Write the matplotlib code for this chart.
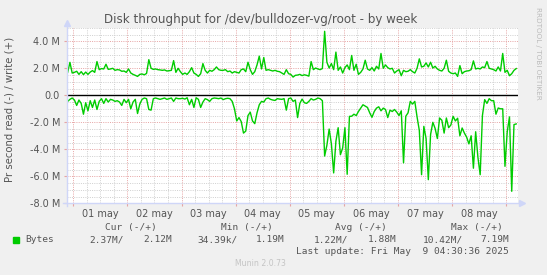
import numpy as np
import pandas as pd
import matplotlib
matplotlib.use("Agg")
import matplotlib.pyplot as plt
import matplotlib.dates as mdates

# hourly samples, values in M (bytes per second)
start = "2025-04-30 21:30"
write_vals = [
    1.70, 2.44, 1.65, 1.70, 1.78, 1.55, 1.75, 1.53, 1.72, 1.55,
    1.72, 1.83, 1.70, 2.50, 1.90, 1.98, 1.95, 2.30, 1.92, 1.95,
    2.00, 1.85, 1.90, 1.88, 1.78, 1.80, 1.70, 1.95, 1.65, 1.55,
    1.48, 1.40, 1.55, 1.58, 1.52, 1.62, 2.64, 2.00, 1.92, 1.95,
    1.90, 1.88, 1.85, 1.88, 1.80, 1.82, 1.85, 2.57, 1.70, 2.00,
    1.75, 1.55, 1.65, 1.55, 1.75, 2.05, 1.65, 1.55, 1.40, 1.60,
    2.35, 1.85, 1.65, 1.85, 1.78, 1.90, 2.10, 1.90, 1.85, 1.85,
    1.90, 1.75, 1.80, 1.65, 1.75, 1.70, 1.65, 1.90, 1.95, 1.75,
    2.45, 1.90, 1.55, 1.75, 2.25, 2.90, 1.95, 2.80, 1.85, 1.90,
    1.85, 1.80, 1.85, 1.78, 1.75, 1.65, 1.55, 1.90, 1.60, 1.55,
    1.35, 1.48, 1.50, 1.55, 1.46, 1.52, 1.48, 1.42, 2.50, 1.90,
    2.02, 1.95, 1.90, 1.98, 4.74, 2.45, 2.02, 2.35, 1.90, 3.20,
    1.85, 2.10, 1.65, 2.05, 2.25, 1.90, 2.95, 1.85, 2.30, 1.55,
    1.70, 1.95, 2.60, 1.95, 1.85, 2.05, 1.80, 2.15, 1.95, 3.10,
    2.00, 2.25, 2.05, 1.95, 2.00, 1.65, 1.80, 1.90, 1.45, 1.85,
    1.75, 1.78, 1.90, 1.75, 1.65, 2.00, 2.70, 2.10, 2.15, 2.40,
    2.10, 2.45, 2.02, 2.15, 1.95, 1.85, 1.80, 2.00, 2.60, 1.78,
    1.65, 1.60, 1.65, 1.40, 2.20, 1.60, 1.75, 1.80, 1.82, 1.90,
    2.55, 1.95, 2.00, 1.95, 2.10, 2.05, 2.50, 2.00, 1.95, 1.90,
    1.80, 2.10, 1.80, 3.10, 1.70, 1.85, 1.45, 1.60, 1.85, 1.98,
]
read_vals = [
    -0.45, -0.30, -0.20, -0.35, -0.75, -0.35, -0.60, -1.40, -0.55, -1.15,
    -0.40, -0.90, -0.35, -1.05, -0.45, -0.25, -0.60, -0.25, -0.50, -0.30,
    -0.35, -0.45, -0.40, -0.50, -0.75, -0.30, -0.55, -0.30, -1.00, -0.50,
    -0.30, -1.35, -0.65, -0.30, -0.20, -0.25, -1.05, -1.10, -0.25, -0.20,
    -0.25, -0.30, -0.25, -0.20, -0.30, -0.25, -0.20, -0.45, -0.20, -0.25,
    -0.25, -0.22, -0.28, -0.18, -0.70, -0.30, -0.90, -0.18, -0.30, -0.90,
    -0.50, -0.25, -0.32, -0.45, -0.25, -0.20, -0.22, -0.25, -0.20, -0.32,
    -0.25, -0.22, -0.25, -0.45, -1.00, -1.90, -1.65, -1.95, -2.80, -2.65,
    -1.50, -1.25, -1.90, -2.10, -1.30, -0.70, -0.45, -0.50, -0.25, -0.20,
    -0.30, -0.35, -0.38, -0.25, -0.28, -0.30, -0.25, -1.10, -0.25, -0.20,
    -0.45, -0.35, -1.65, -0.60, -0.28, -0.55, -0.60, -0.45, -0.25, -0.35,
    -0.30, -0.20, -0.25, -0.40, -4.50, -3.70, -2.50, -3.60, -5.75, -3.40,
    -2.40, -4.40, -3.90, -2.40, -5.85, -1.56, -1.55, -1.40, -1.50, -1.20,
    -0.95, -0.70, -0.80, -0.90, -1.30, -1.63, -1.20, -0.95, -0.85, -1.15,
    -0.95, -1.05, -1.65, -1.10, -1.20, -1.05, -1.25, -1.50, -1.15, -5.00,
    -1.55, -1.30, -0.45, -0.65, -0.45, -1.60, -2.60, -5.88, -2.30, -3.20,
    -6.25, -2.90, -2.00, -2.45, -3.20, -1.68, -1.85, -2.80, -1.68, -2.40,
    -2.20, -1.56, -1.90, -1.70, -3.00, -2.42, -2.80, -3.10, -3.60, -3.00,
    -5.40, -2.70, -4.60, -5.88, -1.50, -0.32, -0.60, -0.25, -0.40, -0.40,
    -1.40, -0.94, -1.00, -1.00, -5.26, -2.70, -1.60, -7.11, -2.17, -2.12,
]
day_labels = ["01 may", "02 may", "03 may", "04 may", "05 may", "06 may", "07 may", "08 may"]
ytick_vals = [4, 2, 0, -2, -4, -6, -8]
ytick_labels = ["4.0 M", "2.0 M", "0.0", "-2.0 M", "-4.0 M", "-6.0 M", "-8.0 M"]

legend_heads = ["Cur (-/+)", "Min (-/+)", "Avg (-/+)", "Max (-/+)"]
legend_vals = [("2.37M/", "2.12M"), ("34.39k/", "1.19M"), ("1.22M/", "1.88M"), ("10.42M/", "7.19M")]

W, H = 547, 275
BG = "#F0F0F0"
FONT = "#555555"
AXIS = "#CFD6F8"
GRID = "#CFCFCF"
MGRID = "#E6A4A4"
GREEN = "#00CC00"

times = mdates.date2num(pd.date_range(start, periods=len(write_vals), freq="h"))
may1 = mdates.date2num(pd.Timestamp("2025-05-01"))


def fx(x):
    return x / W


def fy(y):
    return 1 - y / H


fig = plt.figure(figsize=(W / 100, H / 100), dpi=100, facecolor=BG)
L, R, T, B = 67, 518, 27.8, 203.3
ax = fig.add_axes([fx(L), fy(B), fx(R - L), (B - T) / H])
ax.set_facecolor("white")
ax.set_xlim(may1 - 0.1165, may1 + 8.22)
ax.set_ylim(-8, 5)
for s in ax.spines.values():
    s.set_visible(False)

# grid: 6h minor, day major, 0.5M minor, 2M major
dots = (0, (1, 1.3))
for k in range(-1, 34):
    t = may1 + k * 0.25
    ax.axvline(t, color=MGRID if k % 4 == 0 else GRID, lw=0.7, ls=dots, zorder=1)
for v in np.arange(-8, 5.01, 0.5):
    if v == 0:
        continue
    ax.axhline(v, color=MGRID if v % 2 == 0 else GRID, lw=0.7, ls=dots, zorder=1)

ax.plot(times, write_vals, color=GREEN, lw=1.0, zorder=3)
ax.plot(times, read_vals, color=GREEN, lw=1.0, zorder=3)
ax.axhline(0, color="black", lw=1.0, zorder=4)

# ticks
ax.set_xticks([may1 + d for d in range(9)])
ax.set_xticklabels([])
ax.set_xticks([may1 + d + 0.5 for d in range(8)], day_labels, minor=True)
ax.tick_params(axis="x", which="major", length=2, color=MGRID, width=0.8)
ax.tick_params(axis="x", which="minor", length=0, pad=4, labelsize=7, labelcolor=FONT)
ax.set_yticks(ytick_vals, ytick_labels)
ax.tick_params(axis="y", length=2, color=MGRID, width=0.8, pad=3, labelsize=7, labelcolor=FONT)

# axes with arrows
ax.plot([0, 0], [-0.015, 1.03], transform=ax.transAxes, color=AXIS, lw=1, clip_on=False, zorder=5)
ax.plot([-0.008, 1.0085], [0, 0], transform=ax.transAxes, color=AXIS, lw=1, clip_on=False, zorder=5)
ax.plot([0], [1.03], marker="^", ms=4, color=AXIS, transform=ax.transAxes, clip_on=False, zorder=5)
ax.plot([1.0085], [0], marker=">", ms=4, color=AXIS, transform=ax.transAxes, clip_on=False, zorder=5)

# texts
fig.text(fx(261), fy(19), "Disk throughput for /dev/bulldozer-vg/root - by week",
         ha="center", va="center", fontsize=8.6, color=FONT)
fig.text(fx(10), fy(109), "Pr second read (-) / write (+)", rotation=90,
         ha="center", va="center", fontsize=7.3, color=FONT)
fig.text(fx(538), fy(53), "RRDTOOL / TOBI OETIKER", rotation=270,
         ha="center", va="center", fontsize=5.2, color="#BBBBBB")

mono = dict(family="DejaVu Sans Mono", fontsize=6.8, color=FONT, va="center")
head_right = [157, 273, 387, 503]
for h, xr in zip(legend_heads, head_right):
    fig.text(fx(xr), fy(227.7), h, ha="right", **mono)
fig.patches.append(plt.Rectangle((fx(13), fy(242.5)), fx(6), 6 / H, transform=fig.transFigure,
                                 color=GREEN, figure=fig))
fig.text(fx(25), fy(239.7), "Bytes", ha="left", **mono)
val_right = [(124, 172), (238, 285), (348, 397), (463, 509)]
for (a, b), (xa, xb) in zip(legend_vals, val_right):
    fig.text(fx(xa), fy(239.7), a, ha="right", **mono)
    fig.text(fx(xb), fy(239.7), b, ha="right", **mono)
fig.text(fx(509), fy(251), "Last update: Fri May  9 04:30:36 2025", ha="right", **mono)
fig.text(fx(260.5), fy(264), "Munin 2.0.73", ha="center", va="center", fontsize=5.6, color="#C4C4C4")

fig.savefig("out.png", dpi=100, facecolor=BG)
